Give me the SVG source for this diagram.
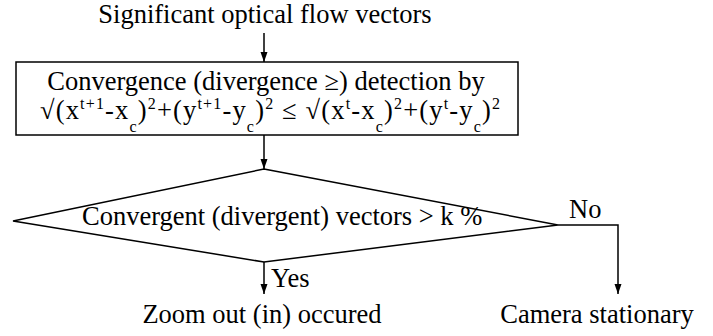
<svg xmlns="http://www.w3.org/2000/svg" width="713" height="336" viewBox="0 0 713 336">
<style>
text{font-family:'Liberation Serif','DejaVu Serif','Times New Roman',Times,serif;font-size:26.5px;fill:#000}
.m{text-anchor:middle}
.s{font-size:16px}
.ln{fill:none;stroke:#000;stroke-width:1.5}
</style>
<defs>
<marker id="ah" viewBox="0 0 10 10" refX="10" refY="5" markerWidth="10" markerHeight="10" markerUnits="userSpaceOnUse" orient="auto">
<path d="M0,1.5 L10,5 L0,8.5 Z" fill="#000"/>
</marker>
</defs>
<rect width="713" height="336" fill="#fff"/>
<g id="input"><text class="m" x="265" y="23">Significant optical flow vectors</text></g>
<g id="detect">
<rect class="ln" x="16" y="62" width="502" height="73"/>
<text class="m" x="266" y="90">Convergence (divergence ≥) detection by</text>
<text x="40" y="119" textLength="460" lengthAdjust="spacing">√(x<tspan class="s" dy="-10">t+1</tspan><tspan dy="10">-x</tspan><tspan class="s" dy="13">c</tspan><tspan dy="-13">)</tspan><tspan class="s" dy="-10">2</tspan><tspan dy="10">+(y</tspan><tspan class="s" dy="-10">t+1</tspan><tspan dy="10">-y</tspan><tspan class="s" dy="13">c</tspan><tspan dy="-13">)</tspan><tspan class="s" dy="-10">2</tspan><tspan dy="10"> ≤ √(x</tspan><tspan class="s" dy="-10">t</tspan><tspan dy="10">-x</tspan><tspan class="s" dy="13">c</tspan><tspan dy="-13">)</tspan><tspan class="s" dy="-10">2</tspan><tspan dy="10">+(y</tspan><tspan class="s" dy="-10">t</tspan><tspan dy="10">-y</tspan><tspan class="s" dy="13">c</tspan><tspan dy="-13">)</tspan><tspan class="s" dy="-10">2</tspan></text>
</g>
<g id="decision">
<polygon class="ln" points="264,169 558,225 264,262 13,221"/>
<text x="82" y="225">Convergent (divergent) vectors &gt; k %</text>
</g>
<g id="zoom"><text class="m" x="262" y="323">Zoom out (in) occured</text></g>
<g id="stationary"><text class="m" x="597" y="323">Camera stationary</text></g>
<g id="connectors">
<line class="ln" x1="264" y1="33" x2="264" y2="62" marker-end="url(#ah)"/>
<line class="ln" x1="264" y1="135" x2="264" y2="169" marker-end="url(#ah)"/>
<line class="ln" x1="264" y1="262" x2="264" y2="294" marker-end="url(#ah)"/>
<polyline class="ln" points="558,225 618,225 618,294" marker-end="url(#ah)"/>
<text x="271" y="287">Yes</text>
<text x="569" y="218">No</text>
</g>
</svg>
